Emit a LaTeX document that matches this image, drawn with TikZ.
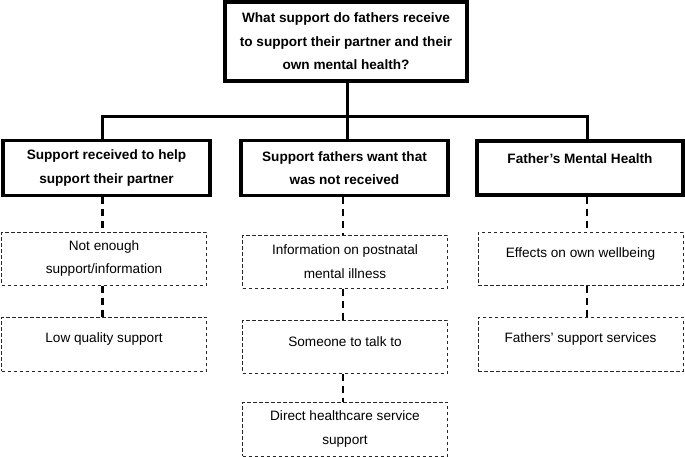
\documentclass[tikz,border=0pt]{standalone}
\usepackage{fontspec}
\setmainfont{Liberation Sans}
\begin{document}
\begin{tikzpicture}[x=1pt,y=-1pt,
  every node/.style={inner sep=0pt, align=center, font=\fontsize{13.6}{23.5}\selectfont},
  mainbox/.style={draw, line width=3.4pt, font=\fontsize{13.6}{23.5}\selectfont\bfseries},
  subbox/.style={draw=black!85, line width=1pt, dash pattern=on 3.5pt off 2.5pt, minimum width=205pt},
  solidcon/.style={line width=3pt},
  dashcon/.style={line width=2.8pt, dash pattern=on 7pt off 5pt}]
\useasboundingbox (0,0) rectangle (685,457);
% top
\node[mainbox, minimum width=242pt, minimum height=79pt] (top) at (346,41.5)
  {What support do fathers receive\\to support their partner and their\\own mental health?};
% level 2
\node[mainbox, minimum width=207pt, minimum height=55pt] (a) at (106.5,168)
  {Support received to help\\support their partner};
\node[mainbox, minimum width=207pt, minimum height=55pt] (b) at (344.5,168)
  {Support fathers want that\\was not received};
\node[mainbox, minimum width=206pt, minimum height=54pt] (c) at (580,168)
  {\raisebox{9pt}[\height][\depth]{Father’s Mental Health}};
% level 3
\node[subbox, minimum height=53pt] (a1) at (104,258.5) {Not enough\\support/information};
\node[subbox, minimum height=54pt] (a2) at (104,344) {\raisebox{5pt}[\height][\depth]{Low quality support}};
\node[subbox, minimum height=53pt] (b1) at (345,261.5) {Information on postnatal\\mental illness};
\node[subbox, minimum height=53pt] (b2) at (345,346.5) {\raisebox{5pt}[\height][\depth]{Someone to talk to}};
\node[subbox, minimum height=54pt] (b3) at (345,429) {Direct healthcare service\\support};
\node[subbox, minimum height=53pt] (c1) at (580.5,258.5) {\raisebox{5pt}[\height][\depth]{Effects on own wellbeing}};
\node[subbox, minimum height=54pt] (c2) at (580.5,344) {\raisebox{5pt}[\height][\depth]{Fathers’ support services}};
% connectors
\coordinate (h1) at (102.5,117);
\coordinate (h2) at (347,117);
\coordinate (h3) at (587,117);
\draw[solidcon] (top.south -| h2) -- (h2);
\draw[solidcon, line cap=rect] (h1) -- (h3);
\draw[solidcon] (h1) -- (a.north -| h1);
\draw[solidcon] (h2) -- (b.north -| h2);
\draw[solidcon] (h3) -- (c.north -| h3);
\coordinate (d1) at (102.5,0);
\coordinate (d2) at (343,0);
\coordinate (d3) at (587,0);
\draw[dashcon] (a.south -| d1) -- (a1.north -| d1);
\draw[dashcon] (a1.south -| d1) -- (a2.north -| d1);
\draw[dashcon] (b.south -| d2) -- (b1.north -| d2);
\draw[dashcon] (b1.south -| d2) -- (b2.north -| d2);
\draw[dashcon] (b2.south -| d2) -- (b3.north -| d2);
\draw[dashcon] (c.south -| d3) -- (c1.north -| d3);
\draw[dashcon] (c1.south -| d3) -- (c2.north -| d3);
\end{tikzpicture}
\end{document}
